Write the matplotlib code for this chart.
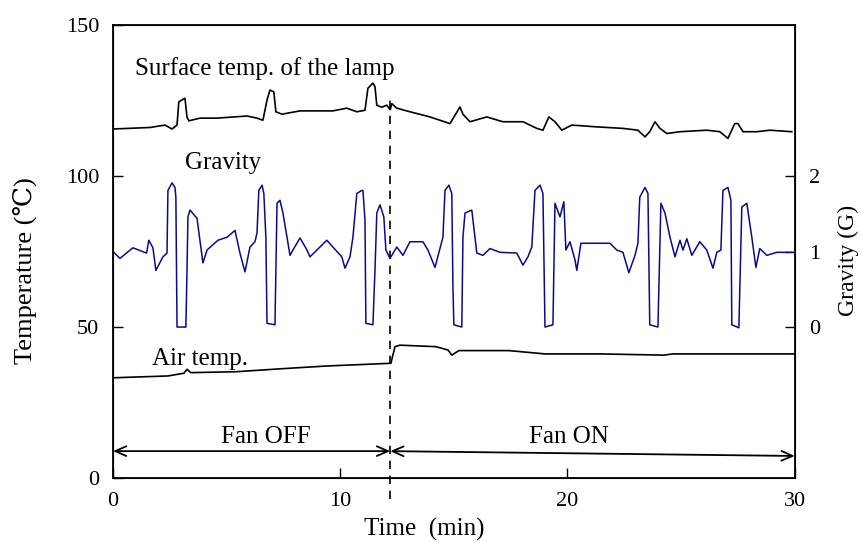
import matplotlib.pyplot as plt

# ---------- data ----------
# gravity trace (time in min, gravity in G)
grav_t = [0.00, 0.31, 0.88, 1.48, 1.58, 1.76, 1.89, 2.20, 2.38, 2.42, 2.60, 2.73, 2.77, 2.82,
          3.21, 3.26, 3.30, 3.39, 3.70, 3.83, 3.96, 4.14, 4.62, 5.02, 5.37, 5.59, 5.81, 6.03,
          6.25, 6.34, 6.42, 6.56, 6.64, 6.73, 6.78, 7.13, 7.17, 7.22, 7.35, 7.48, 7.66, 7.79,
          7.92, 8.23, 8.54, 8.67, 8.97, 9.41, 9.68, 10.07, 10.21, 10.43, 10.56, 10.73, 10.95,
          11.00, 11.09, 11.13, 11.44, 11.53, 11.61, 11.75, 11.92, 12.01, 12.19, 12.49, 12.76,
          13.07, 13.64, 13.86, 14.17, 14.39, 14.52, 14.61, 14.78, 14.91, 14.96, 15.00, 15.35,
          15.40, 15.49, 15.79, 15.93, 16.01, 16.28, 16.59, 17.03, 17.77, 18.04, 18.26, 18.43,
          18.57, 18.79, 18.92, 19.01, 19.36, 19.45, 19.67, 19.84, 19.93, 20.11, 20.33, 20.41,
          20.59, 20.99, 21.87, 22.17, 22.44, 22.70, 22.97, 23.10, 23.18, 23.41, 23.54, 23.62,
          23.98, 24.11, 24.29, 24.51, 24.73, 24.95, 25.08, 25.25, 25.47, 25.82, 26.13, 26.40,
          26.57, 26.75, 26.84, 27.06, 27.19, 27.23, 27.54, 27.67, 27.89, 28.11, 28.29, 28.46,
          28.77, 29.21, 29.92]
grav_g = [1.00, 0.91, 1.05, 0.98, 1.15, 1.05, 0.75, 0.93, 0.98, 1.81, 1.91, 1.85, 1.72, 0.00,
          0.00, 0.75, 1.46, 1.55, 1.44, 1.15, 0.85, 1.02, 1.15, 1.19, 1.28, 0.98, 0.73, 1.06,
          1.13, 1.25, 1.81, 1.88, 1.77, 1.19, 0.05, 0.03, 0.75, 1.64, 1.68, 1.51, 1.19, 0.95,
          1.02, 1.18, 1.02, 0.93, 1.02, 1.15, 1.06, 0.93, 0.78, 0.93, 1.19, 1.77, 1.81,
          1.81, 1.42, 0.05, 0.03, 0.75, 1.51, 1.62, 1.46, 1.02, 0.91, 1.06, 0.95,
          1.13, 1.13, 1.02, 0.79, 1.04, 1.19, 1.81, 1.88, 1.77, 0.53, 0.03, 0.00,
          1.19, 1.51, 1.55, 1.19, 0.98, 0.95, 1.04, 0.99, 0.98, 0.82, 0.93, 1.06,
          1.81, 1.88, 1.77, 0.00, 0.03, 1.64, 1.46, 1.66, 1.02, 1.13, 0.89, 0.75,
          1.11, 1.11, 1.11, 1.02, 0.99, 0.72, 0.95, 1.11, 1.72, 1.85, 1.77, 0.03,
          0.00, 1.64, 1.51, 1.19, 0.93, 1.15, 1.02, 1.17, 0.95, 1.13, 1.02, 0.78,
          0.99, 1.02, 1.81, 1.85, 1.68, 0.03, -0.01, 1.59, 1.64, 1.19, 0.79, 1.04,
          0.95, 0.99, 0.99]

# surface temperature of the lamp (degC)
surf_t = [0.00, 1.63, 2.29, 2.60, 2.82, 2.90, 3.17, 3.26, 3.34, 3.83, 4.58, 5.90, 6.34, 6.60,
          6.78, 6.91, 7.08, 7.17, 7.44, 8.23, 9.68, 10.29, 10.73, 11.09, 11.22, 11.44, 11.53,
          11.61, 11.83, 12.05, 12.20, 12.27, 12.49, 13.07, 13.95, 14.83, 15.27, 15.40, 15.71,
          16.45, 17.16, 18.04, 18.65, 18.92, 19.18, 19.45, 19.75, 20.19, 21.29, 22.44, 23.10,
          23.41, 23.62, 23.85, 24.07, 24.37, 24.95, 26.13, 26.70, 27.06, 27.36, 27.50, 27.72,
          28.33, 28.90, 29.87]
surf_T = [115.6, 116.1, 116.9, 115.6, 116.9, 124.6, 125.8, 119.5, 118.3, 119.2, 119.2, 119.9,
          119.2, 118.5, 125.2, 128.5, 127.9, 121.3, 120.5, 121.6, 121.6, 122.5, 121.3, 121.8,
          129.1, 130.8, 129.6, 123.5, 122.8, 123.5, 122.0, 124.0, 122.5, 121.3, 119.6, 117.4,
          122.9, 120.5, 118.0, 119.6, 118.0, 118.0, 115.8, 115.2, 119.6, 118.0, 115.2, 116.9,
          116.3, 115.8, 115.2, 113.0, 114.7, 118.0, 115.8, 114.1, 114.7, 115.2, 114.7, 112.5,
          117.4, 117.4, 114.7, 114.7, 115.2, 114.7]

# air temperature (degC)
air_t = [0.03, 2.42, 3.12, 3.26, 3.43, 5.41, 7.44, 9.41, 12.23, 12.41, 12.63, 14.21, 14.74,
         14.91, 15.22, 17.42, 19.01, 21.43, 24.24, 24.64, 27.80, 30.00]
air_T = [33.2, 33.8, 34.7, 36.0, 34.9, 35.2, 36.2, 37.1, 38.0, 43.5, 44.0, 43.5, 42.4,
         40.7, 42.2, 42.2, 41.1, 41.1, 40.7, 41.1, 41.1, 41.1]

fan_switch = 12.2

plt.rcParams['font.family'] = ['Liberation Serif', 'DejaVu Serif']

fig = plt.figure(figsize=(8.62, 5.43), dpi=100)
ax = fig.add_axes([0.131, 0.1197, 0.791, 0.834])

ax.plot(surf_t, surf_T, color='black', lw=1.2)
ax.plot(air_t, air_T, color='black', lw=1.2)

ax.set_xlim(0, 30)
ax.set_ylim(0, 150)
ax.set_xticks([0, 10, 20, 30])
ax.set_yticks([0, 50, 100, 150])
ax.tick_params(direction='in', length=7, width=1, labelsize=16, pad=10)
for s in ax.spines.values():
    s.set_linewidth(1.3)

ax2 = ax.twinx()
ax2.plot(grav_t, grav_g, color='#0a0a8c', lw=1.1)
ax2.set_ylim(-2, 4)
ax2.set_yticks([0, 1, 2])
ax2.tick_params(direction='in', length=7, width=1, labelsize=16, pad=10)

# axis titles
ax.text(0.456, -0.128, 'Time  (min)', transform=ax.transAxes, fontsize=18,
        ha='center', va='baseline')
ax.text(-0.129, 0.459, 'Temperature (\u2103)', transform=ax.transAxes, fontsize=19,
        rotation=90, ha='center', va='center')
ax.text(1.078, 0.481, 'Gravity (G)', transform=ax.transAxes, fontsize=17,
        rotation=90, ha='center', va='center')

# fan switch line
ax.plot([fan_switch, fan_switch], [-7, 126.5], color='black', lw=1.2,
        ls=(0, (5, 4)), clip_on=False)

# fan arrows
arrow = dict(arrowstyle='<->,head_length=0.8,head_width=0.35', lw=1.3, color='black',
             shrinkA=0, shrinkB=0)
ax.annotate('', xy=(0, 8.9), xytext=(fan_switch, 8.9), arrowprops=arrow)
ax.annotate('', xy=(fan_switch, 8.9), xytext=(30, 7.3), arrowprops=arrow)

ax.text(6.75, 11.6, 'Fan OFF', fontsize=18, ha='center', va='baseline')
ax.text(20.06, 11.6, 'Fan ON', fontsize=18, ha='center', va='baseline')
ax.text(0.97, 133.4, 'Surface temp. of the lamp', fontsize=18, ha='left', va='baseline')
ax.text(3.17, 102.3, 'Gravity', fontsize=18, ha='left', va='baseline')
ax.text(1.72, 37.5, 'Air temp.', fontsize=18, ha='left', va='baseline')

fig.savefig('out.png', dpi=100)
